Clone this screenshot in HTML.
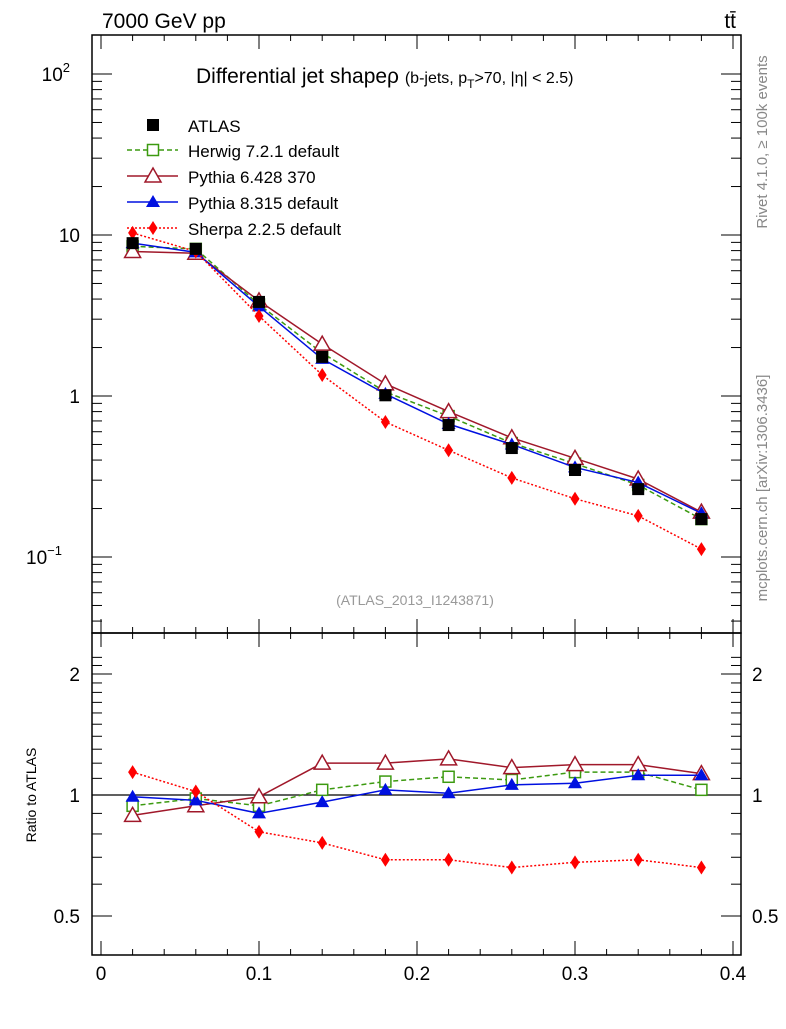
<!DOCTYPE html>
<html><head><meta charset="utf-8"><style>
body{margin:0;background:#fff;width:786px;height:1024px;overflow:hidden}
svg{font-family:"Liberation Sans",sans-serif}
</style></head><body>
<svg id="c" width="786" height="1024" xmlns="http://www.w3.org/2000/svg"></svg>
<script>
const xs=[0.02,0.06,0.10,0.14,0.18,0.22,0.26,0.30,0.34,0.38];
const atlas=[8.9,8.2,3.84,1.75,1.01,0.66,0.475,0.347,0.264,0.172];
const herwig=[8.5,8.2,3.7,1.85,1.06,0.75,0.51,0.38,0.28,0.172];
const pythia6=[7.9,7.7,3.9,2.1,1.19,0.8,0.55,0.41,0.305,0.19];
const pythia8=[8.9,7.8,3.6,1.7,1.03,0.67,0.50,0.36,0.29,0.187];
const sherpa=[10.3,7.9,3.14,1.35,0.69,0.46,0.31,0.23,0.18,0.112];
const rHerwig=[0.94,0.98,0.94,1.03,1.08,1.11,1.09,1.14,1.14,1.03];
const rPythia6=[0.89,0.94,0.99,1.20,1.20,1.23,1.17,1.19,1.19,1.13];
const rPythia8=[0.99,0.97,0.90,0.96,1.03,1.01,1.06,1.07,1.12,1.12];
const rSherpa=[1.14,1.02,0.81,0.76,0.69,0.69,0.66,0.68,0.69,0.66];
const xTicks=[0,0.1,0.2,0.3,0.4];
const ratioTicks=[0.5,1,2];

const S=document.getElementById('c');
const NS='http://www.w3.org/2000/svg';
function el(t,a,p){const e=document.createElementNS(NS,t);for(const k in a)e.setAttribute(k,a[k]);(p||S).appendChild(e);return e;}
const L=92,R=741,T=35,M=633,B=955;
const X=v=>101+v*1580;
const Y=v=>396-161*Math.log10(v);
const YR=v=>795-121*Math.log2(v);

// frames
let f1=el('rect',{x:L,y:T,width:R-L,height:M-T,fill:'none',stroke:'#000','stroke-width':1.5});


let f2=el('rect',{x:L,y:M,width:R-L,height:B-M,fill:'none',stroke:'#000','stroke-width':1.5});



// x ticks
for(let i=0;i<=20;i++){const v=i*0.02,x=X(v),big=i%5===0,len=big?14:6;
 for(const [y0,d] of [[B,-1],[M,-1],[M,1],[T,1]]){el('line',{x1:x,x2:x,y1:y0,y2:y0+d*len,stroke:'#000','stroke-width':1});}
}
xTicks.forEach(v=>{const t=el('text',{x:X(v),y:980,'font-size':19,'text-anchor':'middle'});t.textContent=v===0?'0':v.toFixed(1);
 
 });

// main y ticks (log)
for(let d=-2;d<=2;d++)for(let m=1;m<=9;m++){const v=m*Math.pow(10,d),y=Y(v);if(y<T||y>M)continue;const len=m===1?20:10;
 el('line',{x1:L,x2:L+len,y1:y,y2:y,stroke:'#000'});el('line',{x1:R,x2:R-len,y1:y,y2:y,stroke:'#000'});}
[[100,'10','2'],[10,'10',''],[1,'1',''],[0.1,'10','−1']].forEach(([v,b,e])=>{const t=el('text',{x:e?74:80,y:Y(v)+7,'font-size':19,'text-anchor':'end'});
 t.textContent=b;if(e){const s=el('tspan',{dy:-9,'font-size':13},t);s.textContent=e;t.setAttribute('x',e==='2'?70:62);t.setAttribute('text-anchor','end');}
 
 });

// ratio ticks
for(let v=0.4;v<=2.3;v+=0.1){const vv=Math.round(v*10)/10,y=YR(vv);if(y<M||y>B)continue;const big=ratioTicks.includes(vv);const len=big?20:10;
 el('line',{x1:L,x2:L+len,y1:y,y2:y,stroke:'#000'});el('line',{x1:R,x2:R-len,y1:y,y2:y,stroke:'#000'});}
ratioTicks.forEach(v=>{for(const [x,a] of [[80,'end'],[752,'start']]){const t=el('text',{x:x,y:YR(v)+7,'font-size':19,'text-anchor':a});t.textContent=String(v);
 
 }});
el('line',{x1:L,x2:R,y1:YR(1),y2:YR(1),stroke:'#000','stroke-width':1.3});

// texts
function txt(s,a,name){const t=el('text',a);t.textContent=s;return t;}
txt('7000 GeV pp',{x:102,y:28,'font-size':21},'energy-label');
txt('tt̄',{x:736,y:28,'font-size':21,'text-anchor':'end'},'process-label');
let ti=txt('Differential jet shapeρ ',{x:196,y:83,'font-size':21},'plot-title');
let ts=el('tspan',{'font-size':16},ti);ts.textContent='(b-jets, p';
let ts2=el('tspan',{'font-size':12,dy:5},ti);ts2.textContent='T';
let ts3=el('tspan',{'font-size':16,dy:-5},ti);ts3.textContent='>70, |η| < 2.5)';
txt('(ATLAS_2013_I1243871)',{x:415,y:605,'font-size':14,fill:'#999','text-anchor':'middle'},'analysis-id');
txt('Ratio to ATLAS',{x:0,y:0,'font-size':14,transform:'translate(36,795) rotate(-90)','text-anchor':'middle'},'ratio-axis-title');
txt('Rivet 4.1.0, ≥ 100k events',{x:0,y:0,'font-size':15,fill:'#888',transform:'translate(767,142) rotate(-90)','text-anchor':'middle'},'rivet-label');
txt('mcplots.cern.ch [arXiv:1306.3436]',{x:0,y:0,'font-size':15,fill:'#888',transform:'translate(767,488) rotate(-90)','text-anchor':'middle'},'mcplots-label');

// markers
function marker(kind,x,y,c,g){
 if(kind==='sq')return el('rect',{x:x-6,y:y-6,width:12,height:12,fill:'#000'},g);
 if(kind==='osq')return el('rect',{x:x-5.5,y:y-5.5,width:11,height:11,fill:'#fff',stroke:c,'stroke-width':1.5},g);
 if(kind==='otri')return el('polygon',{points:`${x},${y-8} ${x-8},${y+6} ${x+8},${y+6}`,fill:'#fff',stroke:c,'stroke-width':1.5},g);
 if(kind==='tri')return el('polygon',{points:`${x},${y-7} ${x-7},${y+5} ${x+7},${y+5}`,fill:c},g);
 if(kind==='dia')return el('polygon',{points:`${x},${y-7} ${x-4.5},${y} ${x},${y+7} ${x+4.5},${y}`,fill:c},g);
}
const series=[
 {name:'herwig',vals:herwig,r:rHerwig,c:'#3c9a10',dash:'5,3',m:'osq',label:'Herwig 7.2.1 default'},
 {name:'pythia6',vals:pythia6,r:rPythia6,c:'#a0182a',dash:'',m:'otri',label:'Pythia 6.428 370'},
 {name:'pythia8',vals:pythia8,r:rPythia8,c:'#0010e0',dash:'',m:'tri',label:'Pythia 8.315 default'},
 {name:'sherpa',vals:sherpa,r:rSherpa,c:'#ff0000',dash:'2,2',m:'dia',label:'Sherpa 2.2.5 default'}];
series.forEach(s=>{
 const g=el('g',{});
 el('polyline',{points:s.vals.map((v,i)=>X(xs[i])+','+Y(v)).join(' '),fill:'none',stroke:s.c,'stroke-width':1.5,'stroke-dasharray':s.dash},g);
 s.vals.forEach((v,i)=>marker(s.m,X(xs[i]),Y(v),s.c,g));
 const g2=el('g',{});
 el('polyline',{points:s.r.map((v,i)=>X(xs[i])+','+YR(v)).join(' '),fill:'none',stroke:s.c,'stroke-width':1.5,'stroke-dasharray':s.dash},g2);
 s.r.forEach((v,i)=>marker(s.m,X(xs[i]),YR(v),s.c,g2));
});
const ga=el('g',{});
atlas.forEach((v,i)=>marker('sq',X(xs[i]),Y(v),'#000',ga));

// legend
const legY=[125,150,176,202,228];
const lg=el('g',{});
marker('sq',153,legY[0],'#000',lg);
let t0=el('text',{x:188,y:legY[0]+7,'font-size':17},lg);t0.textContent='ATLAS';
series.forEach((s,i)=>{const y=legY[i+1];
 el('line',{x1:127,x2:178,y1:y,y2:y,stroke:s.c,'stroke-width':1.5,'stroke-dasharray':s.dash},lg);
 marker(s.m,153,y,s.c,lg);
 const t=el('text',{x:188,y:y+7,'font-size':17},lg);t.textContent=s.label;});
</script>
</body></html>
